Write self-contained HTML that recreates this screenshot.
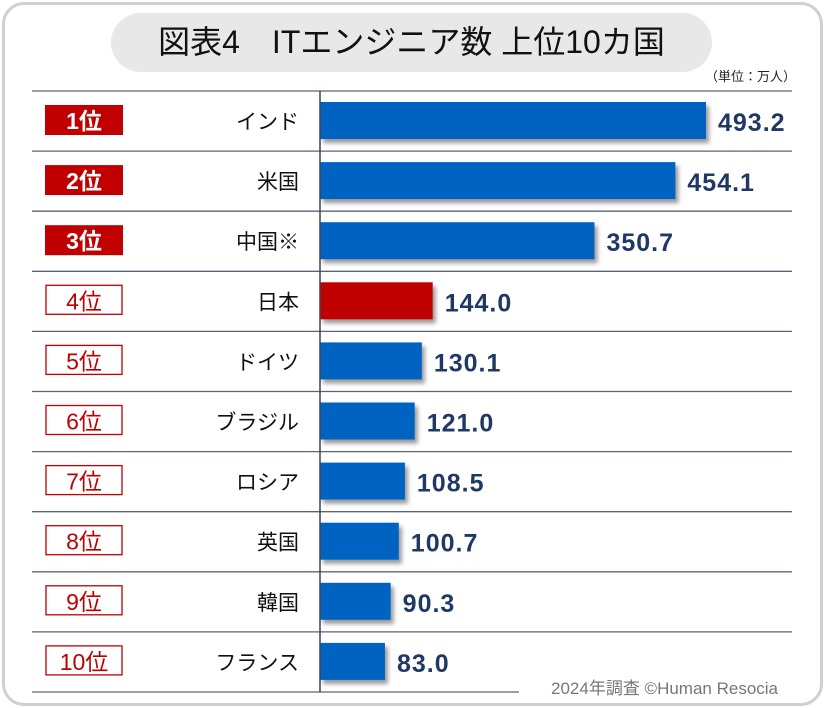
<!DOCTYPE html>
<html><head><meta charset="utf-8"><style>
body{margin:0;width:825px;height:708px;background:#fff;overflow:hidden;font-family:"Liberation Sans","Noto Sans CJK JP",sans-serif}
#frame{position:absolute;left:2px;top:2px;width:815px;height:698px;border:3px solid #d0d0d0;border-radius:22px}
#title{position:absolute;left:111px;top:13px;width:601px;height:59px;background:#e8e8e8;border-radius:30px;text-align:center;line-height:59px;font-size:32px;color:#111}
#unit{position:absolute;left:705px;top:66px;font-size:13px;color:#222}
#credit{position:absolute;left:551px;top:674px;font-size:17px;color:#777}
</style></head><body>
<div id="frame"></div>
<div id="title">図表4　ITエンジニア数 上位10カ国</div>
<div id="unit">（単位：万人）</div>
<svg id="chart" width="825" height="708" style="position:absolute;left:0;top:0">
<defs><filter id="sh" x="-5%" y="-20%" width="115%" height="160%"><feDropShadow dx="3" dy="4" stdDeviation="2" flood-color="#000" flood-opacity="0.4"/></filter></defs>
</svg>
<div id="credit">2024年調査 ©Human Resocia</div>
<script>
const categories=["インド","米国","中国※","日本","ドイツ","ブラジル","ロシア","英国","韓国","フランス"];
const values=[493.2,454.1,350.7,144.0,130.1,121.0,108.5,100.7,90.3,83.0];
const valueLabels=["493.2","454.1","350.7","144.0","130.1","121.0","108.5","100.7","90.3","83.0"];
const ranks=["1位","2位","3位","4位","5位","6位","7位","8位","9位","10位"];
const highlight="日本";
const svg=document.getElementById('chart');
const NS="http://www.w3.org/2000/svg";
const x0=320,scale=386/493.2,top0=91,rowH=60.1;
const xs=v=>x0+v*scale;
const ys=i=>top0+i*rowH;
function mk(t,a){const e=document.createElementNS(NS,t);for(const k in a)e.setAttribute(k,a[k]);svg.appendChild(e);return e;}
for(let i=0;i<=categories.length;i++){
  const l=mk('line',{x1:32,x2:i==categories.length?519:792,y1:ys(i),y2:ys(i),stroke:'#5a6478','stroke-width':1.3});
  
  
}
categories.forEach((c,i)=>{
  const y=ys(i);
  const filled=i<3;
  const b=mk('rect',{x:filled?45:46,y:y+14,width:filled?78:76,height:filled?30:29,fill:filled?'#c00000':'#fff',stroke:filled?'none':'#c00000','stroke-width':1.3});
  
  
  const rt=mk('text',{x:84,y:y+38,'text-anchor':'middle','font-size':23,fill:filled?'#fff':'#c00000','font-weight':filled?'bold':'normal'});
  rt.textContent=ranks[i];
  
  
  const ct=mk('text',{x:299,y:y+38,'text-anchor':'end','font-size':21,fill:'#111'});
  ct.textContent=c;
  
  
  const bar=mk('rect',{x:x0,y:y+11,width:xs(values[i])-x0,height:37,fill:c==highlight?'#c00000':'#0563c1',filter:'url(#sh)'});
  
  
  const vt=mk('text',{x:xs(values[i])+12,y:y+40,'font-size':25,'font-weight':'bold',fill:'#1f3864','letter-spacing':1});
  vt.textContent=valueLabels[i];
  
  
});
const ax=mk('line',{x1:x0,x2:x0,y1:top0,y2:ys(categories.length),stroke:'#3a4458','stroke-width':1.5});


</script>
</body></html>
